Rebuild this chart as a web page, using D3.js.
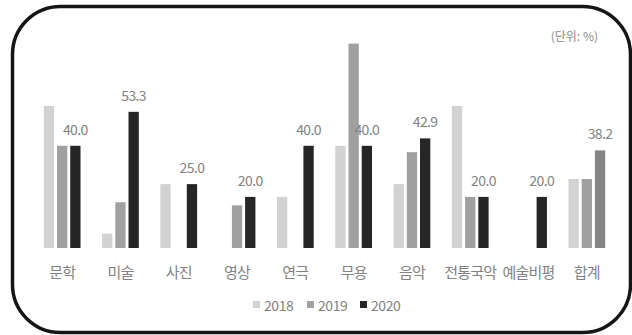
<html>

<head>
    <meta charset="utf-8">
    <title>분야별 비율</title>
    <script src="https://d3js.org/d3.v7.min.js"></script>
    <style>
        body {
            margin: 0;
            background: #fff;
        }
        text {
            font-family: "Noto Sans CJK KR", "Noto Sans", sans-serif;
        }
    </style>
</head>

<body>
    <div id="chart"></div>
    <script>
        // 분야 & 연도
        var categories = ["문학", "미술", "사진", "영상", "연극", "무용", "음악", "전통국악", "예술비평", "합계"];
        var years = ["2018", "2019", "2020"];

        // 값 (단위: %), null = 막대 없음
        var v2018 = [55.6, 5.6, 25.0, null, 20.0, 40.0, 25.0, 55.6, null, 27.0];
        var v2019 = [40.0, 17.9, null, 16.7, null, 80.0, 37.5, 20.0, null, 27.0];
        var v2020 = [40.0, 53.3, 25.0, 20.0, 40.0, 40.0, 42.9, 20.0, 20.0, 38.2];

        var series = [v2018, v2019, v2020];

        var width = 632,
            height = 335;

        var textColor = "#828282";

        var color = d3.scaleOrdinal()
            .domain(years)
            .range(["#d2d2d2", "#a0a0a0", "#262626"]);

        var svg = d3.select("#chart").append("svg")
            .attr("width", width)
            .attr("height", height);

        // rounded frame
        svg.append("rect")
            .attr("x", 12.5)
            .attr("y", 6.5)
            .attr("width", 618)
            .attr("height", 326)
            .attr("rx", 48)
            .attr("ry", 48)
            .attr("fill", "none")
            .attr("stroke", "#151515")
            .attr("stroke-width", 3.5);

        var x0 = d3.scaleBand()
            .domain(categories)
            .range([33, 616])
            .paddingInner(0.37)
            .paddingOuter(0.185);

        var x1 = d3.scaleBand()
            .domain(years)
            .range([0, x0.bandwidth()])
            .paddingInner(0.22);

        var y = d3.scaleLinear()
            .domain([0, 90])
            .range([248, 248 - 90 * 2.555]);

        var rows = categories.map(function(c, i) {
            return {
                cat: c,
                vals: years.map(function(yr, j) {
                    return { year: yr, value: series[j][i], cat: c };
                })
            };
        });

        var group = svg.selectAll(".grp")
            .data(rows)
            .enter().append("g")
            .attr("class", "grp")
            .attr("transform", function(d) {
                return "translate(" + x0(d.cat) + ",0)";
            });

        group.selectAll("rect")
            .data(function(d) {
                return d.vals.filter(function(v) { return v.value != null; });
            })
            .enter().append("rect")
            .attr("x", function(d) { return x1(d.year); })
            .attr("width", x1.bandwidth())
            .attr("y", function(d) { return y(d.value); })
            .attr("height", function(d) { return y(0) - y(d.value); })
            .attr("fill", function(d) {
                // the total's 2020 bar is drawn mid gray in the original
                if (d.cat == "합계" && d.year == "2020") return "#858585";
                return color(d.year);
            });

        // 2020 value labels
        group.append("text")
            .attr("x", x1("2020") + x1.bandwidth() / 2)
            .attr("y", function(d, i) { return y(v2020[i]) - 17; })
            .attr("text-anchor", "middle")
            .attr("dominant-baseline", "central")
            .attr("font-size", 14)
            .attr("letter-spacing", -0.6)
            .attr("fill", textColor)
            .text(function(d, i) { return v2020[i].toFixed(1); });

        // category labels
        svg.append("g")
            .selectAll("text")
            .data(categories)
            .enter().append("text")
            .attr("x", function(d) { return x0(d) + x0.bandwidth() / 2; })
            .attr("y", 271)
            .attr("text-anchor", "middle")
            .attr("dominant-baseline", "central")
            .attr("font-size", 15)
            .attr("letter-spacing", -0.8)
            .attr("fill", textColor)
            .text(function(d) { return d; });

        // unit
        svg.append("text")
            .attr("x", 598)
            .attr("y", 35)
            .attr("text-anchor", "end")
            .attr("dominant-baseline", "central")
            .attr("font-size", 12)
            .attr("fill", "#8a8a8a")
            .text("(단위: %)");

        // legend
        var legendX = [253, 307, 360];
        var legend = svg.append("g")
            .selectAll("g")
            .data(years)
            .enter().append("g")
            .attr("transform", function(d, i) {
                return "translate(" + legendX[i] + ",305)";
            });

        legend.append("rect")
            .attr("x", 0)
            .attr("y", -4)
            .attr("width", 7)
            .attr("height", 7)
            .attr("fill", function(d) { return color(d); });

        legend.append("text")
            .attr("x", 11)
            .attr("y", 0)
            .attr("dominant-baseline", "central")
            .attr("font-size", 14)
            .attr("letter-spacing", -0.4)
            .attr("fill", textColor)
            .text(function(d) { return d; });
    </script>
</body>

</html>
